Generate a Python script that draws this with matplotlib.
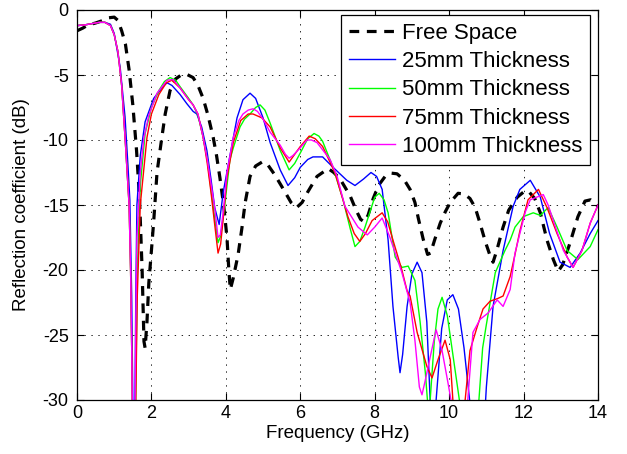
import matplotlib
matplotlib.use("Agg")
import matplotlib.pyplot as plt

plt.rcParams["font.family"] = ["Liberation Sans", "DejaVu Sans"]
plt.rcParams["axes.unicode_minus"] = False
plt.rcParams["lines.scale_dashes"] = False

# Free space
f_free = [0.0, 0.15, 0.3, 0.5, 0.7, 0.85, 1.0, 1.1, 1.2, 1.3, 1.4, 1.5, 1.6, 1.68, 1.75, 1.8,
          1.83, 1.88, 1.93, 2.0, 2.06, 2.15, 2.28, 2.37, 2.5, 2.65, 2.8, 2.95, 3.12, 3.25, 3.39,
          3.52, 3.66, 3.75, 3.84, 3.94, 4.03, 4.08, 4.12, 4.2, 4.33, 4.43, 4.52, 4.65, 4.8, 4.97,
          5.1, 5.32, 5.59, 5.75, 5.9, 6.05, 6.2, 6.45, 6.75, 6.9, 7.07, 7.34, 7.5, 7.62, 7.72,
          7.82, 7.96, 8.1, 8.28, 8.45, 8.6, 8.8, 8.95, 9.08, 9.17, 9.3, 9.42, 9.5, 9.62, 9.76,
          9.9, 10.03, 10.24, 10.4, 10.56, 10.7, 10.83, 10.97, 11.1, 11.18, 11.28, 11.45, 11.6,
          11.83, 12.0, 12.12, 12.3, 12.45, 12.63, 12.8, 12.93, 13.05, 13.25, 13.46, 13.65, 13.8,
          13.9, 14.0]
db_free = [-1.6, -1.4, -1.15, -1.0, -0.8, -0.6, -0.55, -0.8, -1.6, -2.6, -4.6, -7.3, -10.8, -14.5,
           -20, -25.5, -26.0, -24, -21, -18.5, -16.3, -12.5, -9.8, -8.0, -6.2, -5.3, -5.0, -4.95,
           -5.2, -5.8, -6.8, -8.1, -9.8, -11.2, -12.9, -15, -17.5, -20, -21.5, -20.6, -18.8,
           -16.8, -14.8, -12.8, -12.0, -11.7, -11.8, -12.7, -14, -14.8, -15.2, -14.8, -14, -12.8,
           -12.2, -12.5, -13, -14.3, -15.4, -16.1, -16.3, -15.8, -14.5, -13.5, -12.8, -12.55,
           -12.6, -13.1, -13.8, -14.8, -16.0, -17.6, -18.8, -18.7, -17.6, -16.4, -15.5, -14.8,
           -14.1, -14.15, -14.5, -15.2, -16.4, -17.8, -18.9, -19.4, -18.5, -16.7, -15.4, -14.4,
           -14.0, -13.9, -14.5, -15.6, -17.7, -19.2, -20.1, -19.6, -17.9, -15.9, -14.7, -14.6,
           -14.8, -15.1]

# 25mm
f_25 = [0.0, 0.2, 0.4, 0.6, 0.75, 0.9, 1.0, 1.16, 1.29, 1.37, 1.42, 1.47, 1.5, 1.54, 1.58, 1.61,
        1.7, 1.83, 2.06, 2.34, 2.42, 2.55, 2.77, 2.95, 3.12, 3.22, 3.35, 3.49, 3.6, 3.7, 3.82,
        3.93, 4.11, 4.3, 4.46, 4.65, 4.8, 5.0, 5.19, 5.46, 5.67, 5.85, 6.0, 6.2, 6.34, 6.6, 6.88,
        7.25, 7.47, 7.7, 7.9, 8.05, 8.2, 8.36, 8.49, 8.63, 8.68, 8.75, 8.87, 9.0, 9.14, 9.27, 9.4,
        9.49, 9.55, 9.65, 9.8, 9.95, 10.1, 10.25, 10.4, 10.55, 10.65, 10.9, 11.0, 11.18, 11.45,
        11.72, 11.9, 12.18, 12.45, 12.7, 12.98, 13.25, 13.52, 13.79, 14.0]
db_25 = [-1.2, -1.15, -1.05, -0.95, -0.95, -1.1, -1.8, -4.4, -8.2, -12, -14.6, -22, -30, -36, -22,
         -15, -11.2, -8.6, -6.8, -5.8, -5.6, -5.8, -6.5, -7.2, -7.8, -8.0, -9.0, -10.8, -13.0,
         -15.2, -16.5, -14.0, -11.2, -8.3, -6.9, -6.4, -6.8, -8.3, -10.2, -12.3, -13.5, -12.9,
         -12.1, -11.5, -11.3, -11.3, -12.1, -13.1, -13.5, -13.0, -12.5, -12.8, -13.8, -17.7,
         -22.8, -26.7, -27.9, -26.5, -22.8, -20.3, -19.4, -20.2, -24.0, -30.0, -34, -30, -24.5,
         -22.3, -21.9, -23, -26, -30, -34, -34, -29, -22.8, -18.5, -15.1, -13.8, -13.1, -14.4,
         -17.2, -19.4, -19.8, -18.7, -17.2, -16.2]

# 50mm
f_50 = [0.0, 0.2, 0.4, 0.6, 0.75, 0.9, 1.0, 1.1, 1.2, 1.3, 1.4, 1.44, 1.47, 1.5, 1.55, 1.62, 1.7,
        1.83, 2.0, 2.2, 2.35, 2.5, 2.65, 2.77, 3.0, 3.12, 3.25, 3.39, 3.5, 3.6, 3.7, 3.79, 3.86,
        3.95, 4.11, 4.2, 4.38, 4.5, 4.65, 4.8, 4.92, 5.05, 5.19, 5.46, 5.7, 5.85, 6.0, 6.2, 6.37,
        6.5, 6.6, 6.88, 7.15, 7.34, 7.47, 7.6, 7.74, 8.0, 8.12, 8.25, 8.36, 8.55, 8.73, 8.9, 9.08,
        9.22, 9.36, 9.43, 9.46, 9.49, 9.6, 9.7, 9.81, 9.95, 10.1, 10.3, 10.4, 10.7, 10.8, 10.9,
        11.0, 11.24, 11.5, 11.64, 11.77, 11.99, 12.26, 12.45, 12.66, 12.9, 13.17, 13.46, 13.79,
        14.0]
db_50 = [-1.2, -1.15, -1.05, -0.95, -0.95, -1.2, -1.9, -3.2, -5.8, -10.2, -15, -20, -26, -34, -36,
         -20, -13.5, -9.5, -7.5, -6.2, -5.5, -5.2, -5.4, -5.9, -6.8, -7.3, -8.1, -9.8, -11.5,
         -13.8, -16, -17.9, -17.4, -15.5, -11.5, -10.6, -9.0, -8.4, -8.0, -7.5, -7.3, -7.7, -8.7,
         -10.8, -12.3, -11.8, -11.0, -9.9, -9.5, -9.7, -10.1, -12.1, -14.6, -16.8, -18.2, -17.8,
         -16.7, -14.4, -14.1, -14.6, -15.6, -19.0, -19.8, -19.7, -20.8, -24.0, -27.9, -30.5, -33,
         -30, -25.5, -23, -22.1, -23.5, -26.5, -30.5, -34, -34, -30, -26, -24.2, -20.2, -18.5,
         -17.7, -16.7, -15.9, -15.6, -15.8, -15.2, -16.7, -18.5, -19.2, -18.2, -16.9]

# 75mm
f_75 = [0.0, 0.2, 0.4, 0.6, 0.75, 0.9, 1.0, 1.1, 1.2, 1.3, 1.4, 1.44, 1.47, 1.5, 1.55, 1.62, 1.7,
        1.88, 2.0, 2.2, 2.4, 2.55, 2.77, 3.0, 3.12, 3.25, 3.39, 3.5, 3.6, 3.7, 3.79, 3.86, 3.93,
        4.03, 4.2, 4.4, 4.6, 4.73, 4.97, 5.19, 5.46, 5.7, 6.0, 6.24, 6.4, 6.6, 6.93, 7.28, 7.45,
        7.6, 7.75, 7.93, 8.2, 8.35, 8.47, 8.73, 8.87, 8.95, 9.14, 9.4, 9.54, 9.7, 9.89, 10.03,
        10.1, 10.2, 10.35, 10.43, 10.56, 10.75, 10.91, 11.1, 11.3, 11.45, 11.64, 11.77, 11.9,
        12.12, 12.4, 12.63, 12.9, 13.17, 13.33, 13.57, 13.79, 14.0]
db_75 = [-1.2, -1.15, -1.05, -0.95, -0.95, -1.2, -1.9, -3.2, -5.8, -10.2, -15, -20, -26, -34, -36,
         -22, -15, -9.8, -8.0, -6.5, -5.6, -5.4, -6.0, -6.9, -7.3, -8.0, -9.8, -11.8, -14, -16.5,
         -18.7, -18.0, -16, -12.9, -10.2, -8.5, -8.0, -8.0, -8.3, -9.0, -10.6, -11.7, -10.5, -9.7,
         -9.9, -10.5, -12.5, -15.9, -17.2, -17.8, -17.2, -16.2, -15.6, -16.3, -17.5, -20.0, -21.6,
         -22, -24.8, -27.4, -28.3, -26.9, -25.4, -26.9, -30, -34, -34, -30, -26.2, -24.4, -23.0,
         -22.4, -22.2, -22.0, -20.5, -18.8, -17.0, -14.6, -13.8, -15.2, -17.2, -19, -19.8, -18.5,
         -16.4, -15.0]

# 100mm
f_100 = [0.0, 0.2, 0.4, 0.6, 0.75, 0.9, 1.0, 1.1, 1.2, 1.3, 1.4, 1.44, 1.47, 1.5, 1.55, 1.58,
         1.61, 1.7, 1.8, 1.93, 2.15, 2.42, 2.58, 2.77, 3.0, 3.12, 3.25, 3.39, 3.5, 3.57, 3.7, 3.79,
         3.85, 3.93, 4.03, 4.2, 4.35, 4.46, 4.6, 4.73, 4.85, 5.0, 5.19, 5.46, 5.6, 5.7, 5.8, 6.0,
         6.18, 6.3, 6.45, 6.8, 6.99, 7.2, 7.55, 7.8, 8.0, 8.2, 8.41, 8.73, 8.95, 9.08, 9.2, 9.27,
         9.35, 9.49, 9.65, 9.81, 9.97, 10.08, 10.15, 10.4, 10.5, 10.64, 10.83, 11.05, 11.29, 11.45,
         11.64, 11.77, 11.9, 12.05, 12.18, 12.35, 12.53, 12.66, 12.8, 13.07, 13.33, 13.57, 13.79,
         14.0]
db_100 = [-1.2, -1.15, -1.05, -0.95, -0.95, -1.2, -1.9, -3.2, -5.8, -10.2, -15, -20, -26, -34, -34,
          -24, -17.5, -12.5, -9.8, -8.1, -6.4, -5.4, -5.35, -6.0, -6.9, -7.3, -8.0, -9.8, -11.5,
          -12.8, -15.2, -17.5, -17.3, -15.5, -12.5, -9.8, -8.5, -8.0, -7.7, -7.6, -7.8, -8.4,
          -9.4, -10.4, -11.1, -11.4, -11.2, -10.6, -10.0, -10.0, -10.2, -11.5, -12.8, -15.1,
          -16.7, -17.3, -16.7, -16.0, -17.5, -20.2, -22.5, -25.4, -29, -29.6, -28.6, -26.7,
          -24.6, -26.2, -28.7, -30.5, -33, -33, -30, -24.8, -23.8, -23.3, -22.3, -22.8, -21.5,
          -18.7, -17.2, -15.5, -14.6, -14.4, -14.2, -15.0, -16.2, -18.5, -19.8, -18.5, -16.4,
          -15.0]

fig = plt.figure(figsize=(6.27, 4.54), dpi=100)
ax = fig.add_axes([77 / 627, 54 / 454, 521 / 627, 390 / 454])

ax.plot(f_free, db_free, color="black", lw=2.3, linestyle=(0, (7, 5.5)), label="Free Space")
ax.plot(f_25, db_25, color=(0, 0, 1), lw=1.0, label="25mm Thickness")
ax.plot(f_50, db_50, color=(0, 1, 0), lw=1.0, label="50mm Thickness")
ax.plot(f_75, db_75, color=(1, 0, 0), lw=1.0, label="75mm Thickness")
ax.plot(f_100, db_100, color=(1, 0, 1), lw=1.0, label="100mm Thickness")

ax.set_xlim(0, 14)
ax.set_ylim(-30, 0)
ax.set_xticks(range(0, 15, 2))
ax.set_yticks(range(-30, 1, 5))
ax.grid(True, color="black", linestyle=(0, (1, 4)), linewidth=0.6)
ax.tick_params(direction="in", top=True, right=True, labelsize=13, length=5, width=0.8)
ax.tick_params(axis="y", pad=6)
for s in ax.spines.values():
    s.set_linewidth(0.9)
ax.set_xlabel("Frequency (GHz)", fontsize=13.5, labelpad=2)
ax.set_ylabel("Reflection coefficient (dB)", fontsize=13.5, labelpad=9)

leg = ax.legend(loc="upper right", bbox_to_anchor=(513 / 521, 385 / 390), fontsize=16,
                handlelength=2.1, handletextpad=0.3, borderpad=0.35, labelspacing=0.33,
                borderaxespad=0, fancybox=False, framealpha=1, edgecolor="black")
leg.get_frame().set_linewidth(0.9)

fig.savefig("out.png", dpi=100)
